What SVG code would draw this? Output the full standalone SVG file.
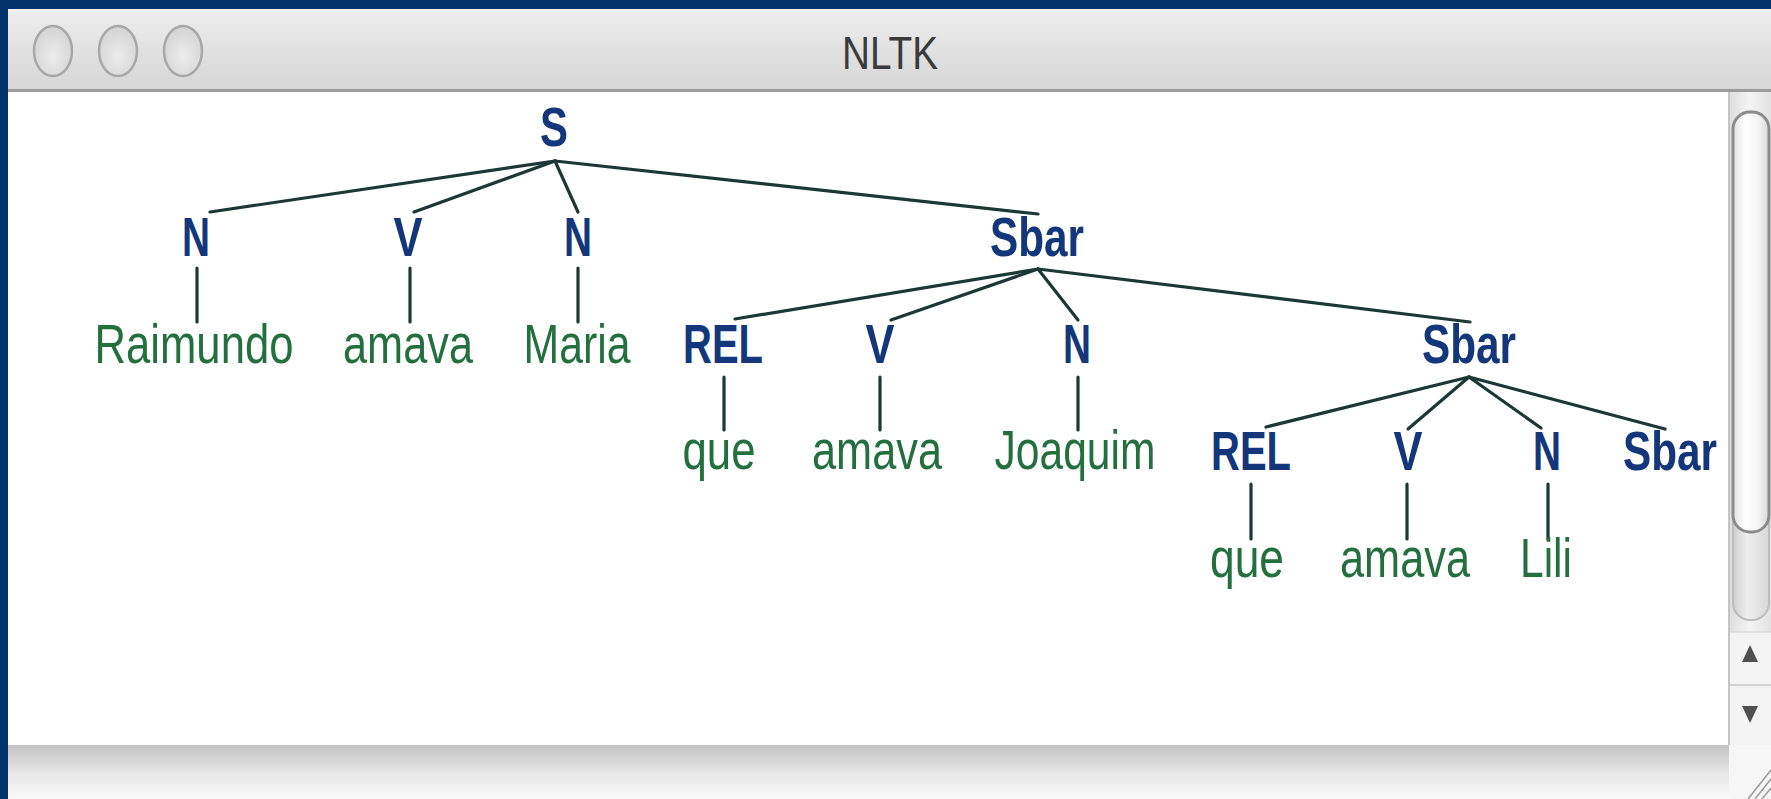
<svg xmlns="http://www.w3.org/2000/svg" width="1771" height="799" viewBox="0 0 1771 799">
  <defs>
    <linearGradient id="titlebar" x1="0" y1="0" x2="0" y2="1">
      <stop offset="0" stop-color="#f2f2f2"/>
      <stop offset="0.08" stop-color="#ebebeb"/>
      <stop offset="1" stop-color="#d6d6d6"/>
    </linearGradient>
    <linearGradient id="statusbar" x1="0" y1="0" x2="0" y2="1">
      <stop offset="0" stop-color="#c2c2c2"/>
      <stop offset="0.5" stop-color="#e6e6e6"/>
      <stop offset="1" stop-color="#fafafa"/>
    </linearGradient>
    <radialGradient id="button" cx="0.5" cy="0.6" r="0.6">
      <stop offset="0" stop-color="#ececec"/>
      <stop offset="1" stop-color="#d4d4d4"/>
    </radialGradient>
    <linearGradient id="thumb" x1="0" y1="0" x2="1" y2="0">
      <stop offset="0" stop-color="#e4e4e4"/>
      <stop offset="0.35" stop-color="#ffffff"/>
      <stop offset="0.7" stop-color="#f4f4f4"/>
      <stop offset="1" stop-color="#d8d8d8"/>
    </linearGradient>
    <linearGradient id="track" x1="0" y1="0" x2="1" y2="0">
      <stop offset="0" stop-color="#dcdcdc"/>
      <stop offset="0.5" stop-color="#f4f4f4"/>
      <stop offset="1" stop-color="#e2e2e2"/>
    </linearGradient>
    <linearGradient id="trackEnd" x1="0" y1="0" x2="1" y2="0">
      <stop offset="0" stop-color="#d0d0d0"/>
      <stop offset="0.4" stop-color="#eeeeee"/>
      <stop offset="1" stop-color="#d8d8d8"/>
    </linearGradient>
    <style>
      .cat { font-family: "Liberation Sans", Arial, sans-serif; font-weight: bold; font-size: 56px; fill: #13377a; text-anchor: middle; }
      .leaf { font-family: "Liberation Sans", Arial, sans-serif; font-size: 56px; fill: #236f3e; text-anchor: middle; }
      .title { font-family: "Liberation Sans", Arial, sans-serif; font-size: 47px; fill: #3a3a3a; text-anchor: middle; }
      .edge { stroke: #1c3836; stroke-width: 3.2; fill: none; stroke-linecap: round; }
      .btn { fill: url(#button); stroke: #a8a8a8; stroke-width: 2.5; }
      .grip { stroke: #9a9a9a; stroke-width: 1.5; }
    </style>
  </defs>

  <!-- window frame and chrome -->
  <g id="window">
    <rect x="0" y="0" width="1771" height="799" fill="#02336a"/>
    <rect x="8" y="9" width="1763" height="790" fill="#ffffff"/>
    <rect x="8" y="9" width="1763" height="81" fill="url(#titlebar)"/>
    <rect x="8" y="89" width="1763" height="3" fill="#9b9b9b"/>
    <ellipse class="btn" cx="53" cy="51" rx="19" ry="25"/>
    <ellipse class="btn" cx="118" cy="51" rx="19" ry="25"/>
    <ellipse class="btn" cx="183" cy="51" rx="19" ry="25"/>
    <text class="title" x="890" y="69" textLength="96" lengthAdjust="spacingAndGlyphs">NLTK</text>

    <!-- vertical scrollbar -->
    <rect x="1728" y="92" width="43" height="653" fill="url(#track)"/>
    <rect x="1733" y="480" width="36" height="140" rx="17" fill="url(#trackEnd)" stroke="#bdbdbd" stroke-width="2"/>
    <rect x="1733" y="112" width="36" height="420" rx="17" fill="url(#thumb)" stroke="#8c8c8c" stroke-width="3"/>
    <rect x="1729" y="632" width="42" height="113" fill="#f3f3f3"/>
    <line x1="1729" y1="632" x2="1771" y2="632" stroke="#d2d2d2" stroke-width="1"/>
    <line x1="1729" y1="685" x2="1771" y2="685" stroke="#c8c8c8" stroke-width="1.5"/>
    <polygon points="1750,645 1742,662 1758,662" fill="#505050"/>
    <polygon points="1742,706 1758,706 1750,723" fill="#505050"/>
    <line x1="1729" y1="92" x2="1729" y2="745" stroke="#c4c4c4" stroke-width="2"/>

    <!-- status bar and resize grip -->
    <rect x="8" y="745" width="1763" height="54" fill="url(#statusbar)"/>
    <rect x="1729" y="745" width="42" height="54" fill="#f6f6f6"/>
    <line class="grip" x1="1748" y1="799" x2="1771" y2="770"/>
    <line class="grip" x1="1755" y1="799" x2="1771" y2="779"/>
    <line class="grip" x1="1762" y1="799" x2="1771" y2="788"/>
  </g>

  <!-- tree branches -->
  <g id="connectors">
    <line class="edge" x1="555" y1="161" x2="210" y2="212"/>
    <line class="edge" x1="555" y1="161" x2="414" y2="212"/>
    <line class="edge" x1="555" y1="161" x2="578" y2="212"/>
    <line class="edge" x1="555" y1="161" x2="1038" y2="214"/>
    <line class="edge" x1="197" y1="268" x2="197" y2="322"/>
    <line class="edge" x1="410" y1="268" x2="410" y2="322"/>
    <line class="edge" x1="578" y1="268" x2="578" y2="322"/>

    <line class="edge" x1="1038" y1="269" x2="735" y2="319"/>
    <line class="edge" x1="1038" y1="269" x2="891" y2="320"/>
    <line class="edge" x1="1038" y1="269" x2="1078" y2="320"/>
    <line class="edge" x1="1038" y1="269" x2="1470" y2="322"/>
    <line class="edge" x1="724" y1="377" x2="724" y2="430"/>
    <line class="edge" x1="880" y1="377" x2="880" y2="430"/>
    <line class="edge" x1="1078" y1="377" x2="1078" y2="430"/>

    <line class="edge" x1="1469" y1="377" x2="1266" y2="427"/>
    <line class="edge" x1="1469" y1="377" x2="1408" y2="429"/>
    <line class="edge" x1="1469" y1="377" x2="1541" y2="428"/>
    <line class="edge" x1="1469" y1="377" x2="1665" y2="429"/>
    <line class="edge" x1="1251" y1="484" x2="1251" y2="539"/>
    <line class="edge" x1="1407" y1="484" x2="1407" y2="539"/>
    <line class="edge" x1="1548" y1="484" x2="1548" y2="539"/>
  </g>

  <!-- tree nodes -->
  <g id="node-S"><text class="cat" x="554" y="146" textLength="28" lengthAdjust="spacingAndGlyphs">S</text></g>

  <g id="node-N1"><text class="cat" x="196" y="256" textLength="28" lengthAdjust="spacingAndGlyphs">N</text></g>
  <g id="node-V1"><text class="cat" x="408" y="256" textLength="29" lengthAdjust="spacingAndGlyphs">V</text></g>
  <g id="node-N2"><text class="cat" x="578" y="256" textLength="28" lengthAdjust="spacingAndGlyphs">N</text></g>
  <g id="node-Sbar1"><text class="cat" x="1037" y="256" textLength="94" lengthAdjust="spacingAndGlyphs">Sbar</text></g>

  <g id="leaf-Raimundo"><text class="leaf" x="194" y="363" textLength="199" lengthAdjust="spacingAndGlyphs">Raimundo</text></g>
  <g id="leaf-amava1"><text class="leaf" x="408" y="363" textLength="130" lengthAdjust="spacingAndGlyphs">amava</text></g>
  <g id="leaf-Maria"><text class="leaf" x="577" y="363" textLength="107" lengthAdjust="spacingAndGlyphs">Maria</text></g>

  <g id="node-REL1"><text class="cat" x="723" y="363" textLength="80" lengthAdjust="spacingAndGlyphs">REL</text></g>
  <g id="node-V2"><text class="cat" x="880" y="363" textLength="29" lengthAdjust="spacingAndGlyphs">V</text></g>
  <g id="node-N3"><text class="cat" x="1077" y="363" textLength="28" lengthAdjust="spacingAndGlyphs">N</text></g>
  <g id="node-Sbar2"><text class="cat" x="1469" y="363" textLength="94" lengthAdjust="spacingAndGlyphs">Sbar</text></g>

  <g id="leaf-que1"><text class="leaf" x="719" y="469" textLength="73" lengthAdjust="spacingAndGlyphs">que</text></g>
  <g id="leaf-amava2"><text class="leaf" x="877" y="469" textLength="130" lengthAdjust="spacingAndGlyphs">amava</text></g>
  <g id="leaf-Joaquim"><text class="leaf" x="1075" y="469" textLength="161" lengthAdjust="spacingAndGlyphs">Joaquim</text></g>

  <g id="node-REL2"><text class="cat" x="1251" y="470" textLength="80" lengthAdjust="spacingAndGlyphs">REL</text></g>
  <g id="node-V3"><text class="cat" x="1408" y="470" textLength="29" lengthAdjust="spacingAndGlyphs">V</text></g>
  <g id="node-N4"><text class="cat" x="1547" y="470" textLength="28" lengthAdjust="spacingAndGlyphs">N</text></g>
  <g id="node-Sbar3"><text class="cat" x="1670" y="470" textLength="94" lengthAdjust="spacingAndGlyphs">Sbar</text></g>

  <g id="leaf-que2"><text class="leaf" x="1247" y="577" textLength="74" lengthAdjust="spacingAndGlyphs">que</text></g>
  <g id="leaf-amava3"><text class="leaf" x="1405" y="577" textLength="130" lengthAdjust="spacingAndGlyphs">amava</text></g>
  <g id="leaf-Lili"><text class="leaf" x="1546" y="577" textLength="52" lengthAdjust="spacingAndGlyphs">Lili</text></g>
</svg>
